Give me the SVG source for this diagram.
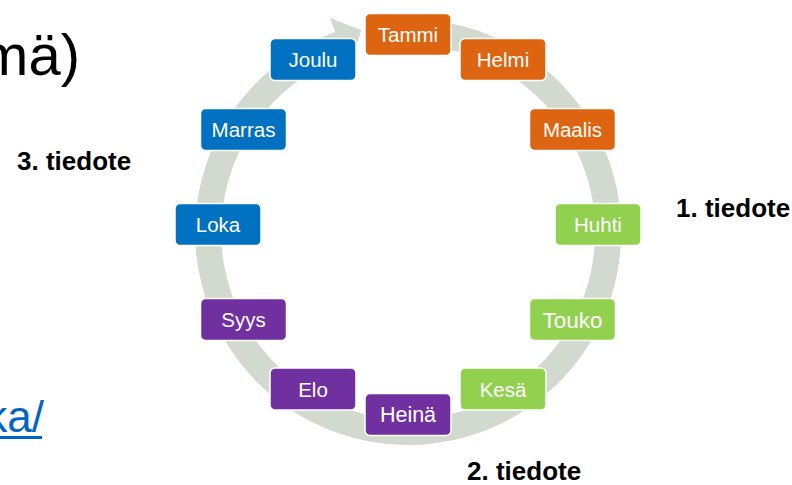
<svg xmlns="http://www.w3.org/2000/svg" width="792" height="485" viewBox="0 0 792 485">
<style>
.box rect{stroke:#ffffff;stroke-width:1.5}
.box text{font-family:"Liberation Sans",Arial,sans-serif;font-size:20.5px;fill:#ffffff;text-anchor:middle}
.or rect{fill:#DD6511}
.gr rect{fill:#92D050}
.pu rect{fill:#7030A0}
.bl rect{fill:#0070C0}
.lbl{font-family:"Liberation Sans",Arial,sans-serif;font-weight:bold;font-size:26px;fill:#000000}
</style>
<rect width="792" height="485" fill="#ffffff"/>
<text x="80" y="75" font-family="Liberation Sans,Arial,sans-serif" font-size="58" text-anchor="end" fill="#000000">mä)</text>
<text x="44" y="432" font-family="Liberation Sans,Arial,sans-serif" font-size="44" text-anchor="end" fill="#0563C1">ka/</text>
<rect x="0" y="436" width="42" height="3" fill="#0563C1"/>
<g id="connectors">
<path d="M442.7,35 A200,200 0 1 1 339.6,44.1" fill="none" stroke="#D2D9CF" stroke-width="26"/>
<polygon points="330,17.7 361.4,30.3 348.5,68.5" fill="#D2D9CF"/>
</g>
<g id="tammi" class="box or"><rect x="365" y="13.5" width="86" height="42" rx="5"/><text x="408" y="42">Tammi</text></g>
<g id="helmi" class="box or"><rect x="460" y="38.5" width="86" height="42" rx="5"/><text x="503" y="67">Helmi</text></g>
<g id="maalis" class="box or"><rect x="529.5" y="108.5" width="86" height="42" rx="5"/><text x="572.5" y="137">Maalis</text></g>
<g id="huhti" class="box gr"><rect x="555" y="203.5" width="86" height="42" rx="5"/><text x="598" y="232">Huhti</text></g>
<g id="touko" class="box gr"><rect x="529.5" y="298.5" width="86" height="42" rx="5"/><text x="572.5" y="327.5" style="font-size:22.5px">Touko</text></g>
<g id="kesa" class="box gr"><rect x="460" y="368" width="86" height="42" rx="5"/><text x="503" y="396.5">Kesä</text></g>
<g id="heina" class="box pu"><rect x="365" y="393.5" width="86" height="42" rx="5"/><text x="408" y="422" style="font-size:21.5px">Heinä</text></g>
<g id="elo" class="box pu"><rect x="270" y="368" width="86" height="42" rx="5"/><text x="313" y="396.5">Elo</text></g>
<g id="syys" class="box pu"><rect x="200.5" y="298.5" width="86" height="42" rx="5"/><text x="243.5" y="327">Syys</text></g>
<g id="loka" class="box bl"><rect x="175" y="203.5" width="86" height="42" rx="5"/><text x="218" y="232">Loka</text></g>
<g id="marras" class="box bl"><rect x="200.5" y="108.5" width="86" height="42" rx="5"/><text x="243.5" y="137">Marras</text></g>
<g id="joulu" class="box bl"><rect x="270" y="38.5" width="86" height="42" rx="5"/><text x="313" y="67">Joulu</text></g>
<g id="labels">
<text class="lbl" x="17" y="170">3. tiedote</text>
<text class="lbl" x="676" y="217">1. tiedote</text>
<text class="lbl" x="467" y="480">2. tiedote</text>
</g>
</svg>
